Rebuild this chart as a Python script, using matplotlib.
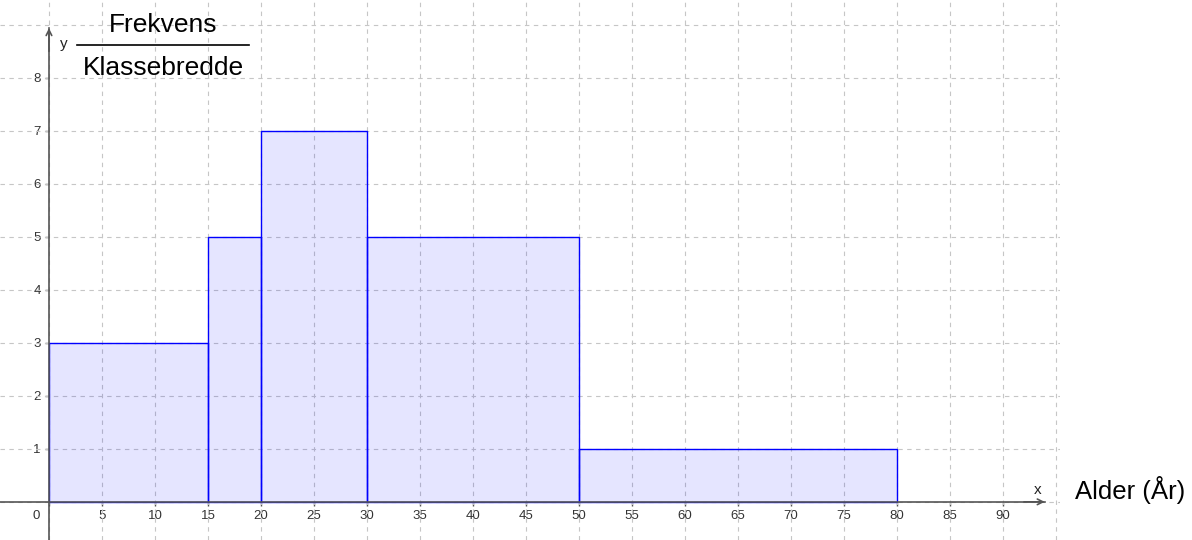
import matplotlib.pyplot as plt
import numpy as np
from matplotlib.lines import Line2D

# klassegrenser (alder) og høyde = frekvens / klassebredde
grenser = [0, 15, 20, 30, 50, 80]
hoyder = [3, 5, 7, 5, 1]
x_ticks = list(range(0, 95, 5))
y_ticks = list(range(1, 9))

plt.rcParams['font.family'] = ['Liberation Sans', 'DejaVu Sans']

fig = plt.figure(figsize=(11.92, 5.4), dpi=100)
fig.patch.set_facecolor('white')
ax = fig.add_axes([0, 0, 1060 / 1192, 1])

akse = '#555555'

# histogram
bredder = np.diff(grenser)
ax.bar(grenser[:-1], hoyder, width=bredder, align='edge',
       color=(0, 0, 1, 0.1), edgecolor='#0000ff', linewidth=1.0, zorder=2)

# akser
for s in ['top', 'right']:
    ax.spines[s].set_visible(False)
ax.spines['left'].set_position(('data', 0))
ax.spines['bottom'].set_position(('data', 0))
ax.spines['left'].set_bounds(-0.72, 8.94)
ax.spines['bottom'].set_bounds(-4.62, 93.96)
for s in ['left', 'bottom']:
    ax.spines[s].set_color(akse)
    ax.spines[s].set_linewidth(1.2)
    ax.spines[s].set_zorder(3)
ax.annotate('', xy=(0, 8.94), xytext=(0, 8.5),
            arrowprops=dict(arrowstyle='->', color=akse, lw=1.2, shrinkA=0, shrinkB=0))
ax.annotate('', xy=(93.96, 0), xytext=(92, 0),
            arrowprops=dict(arrowstyle='->', color=akse, lw=1.2, shrinkA=0, shrinkB=0))

ax.set_xticks(x_ticks)
ax.set_xticklabels([''] + [str(t) for t in x_ticks[1:]])
ax.set_yticks(y_ticks)
ax.set_yticklabels([str(t) for t in y_ticks])
ax.tick_params(which='major', labelsize=9.5, labelcolor='#333333', color=akse,
               length=3, width=1, direction='out')
ax.tick_params(axis='x', pad=3)
ax.tick_params(axis='y', pad=3)
ax.annotate('0', xy=(0, 0), xytext=(-9, -10), textcoords='offset points',
            ha='center', va='center', fontsize=9.5, color='#333333')

# rutenett
ax.xaxis.remove_overlapping_locs = False
ax.yaxis.remove_overlapping_locs = False
ax.set_xticks(np.arange(-5, 100, 5), minor=True)
ax.set_yticks(np.arange(-1, 10, 1), minor=True)
ax.grid(which='minor', color='#c6c6c6', linestyle=(0, (4, 4)), linewidth=0.8, zorder=0)
ax.tick_params(which='minor', length=0)

ax.set_xlim(-4.62, 95.4)
ax.set_ylim(-0.72, 9.47)

ax.text(1.0, 8.64, 'y', fontsize=11, color='#222222', ha='left', va='center')
ax.text(93.3, 0.23, 'x', fontsize=11, color='#222222', ha='center', va='center')

# aksetitler
fig.text(0.137, 0.954, 'Frekvens', fontsize=19, ha='center', va='center')
fig.text(0.137, 0.874, 'Klassebredde', fontsize=19, ha='center', va='center')
fig.add_artist(Line2D([0.065, 0.209], [0.917, 0.917], color='black', lw=1.2,
                      transform=fig.transFigure))
fig.text(0.948, 0.093, 'Alder (År)', fontsize=18.5, ha='center', va='center')

fig.savefig('out.png', dpi=100, facecolor='white')
